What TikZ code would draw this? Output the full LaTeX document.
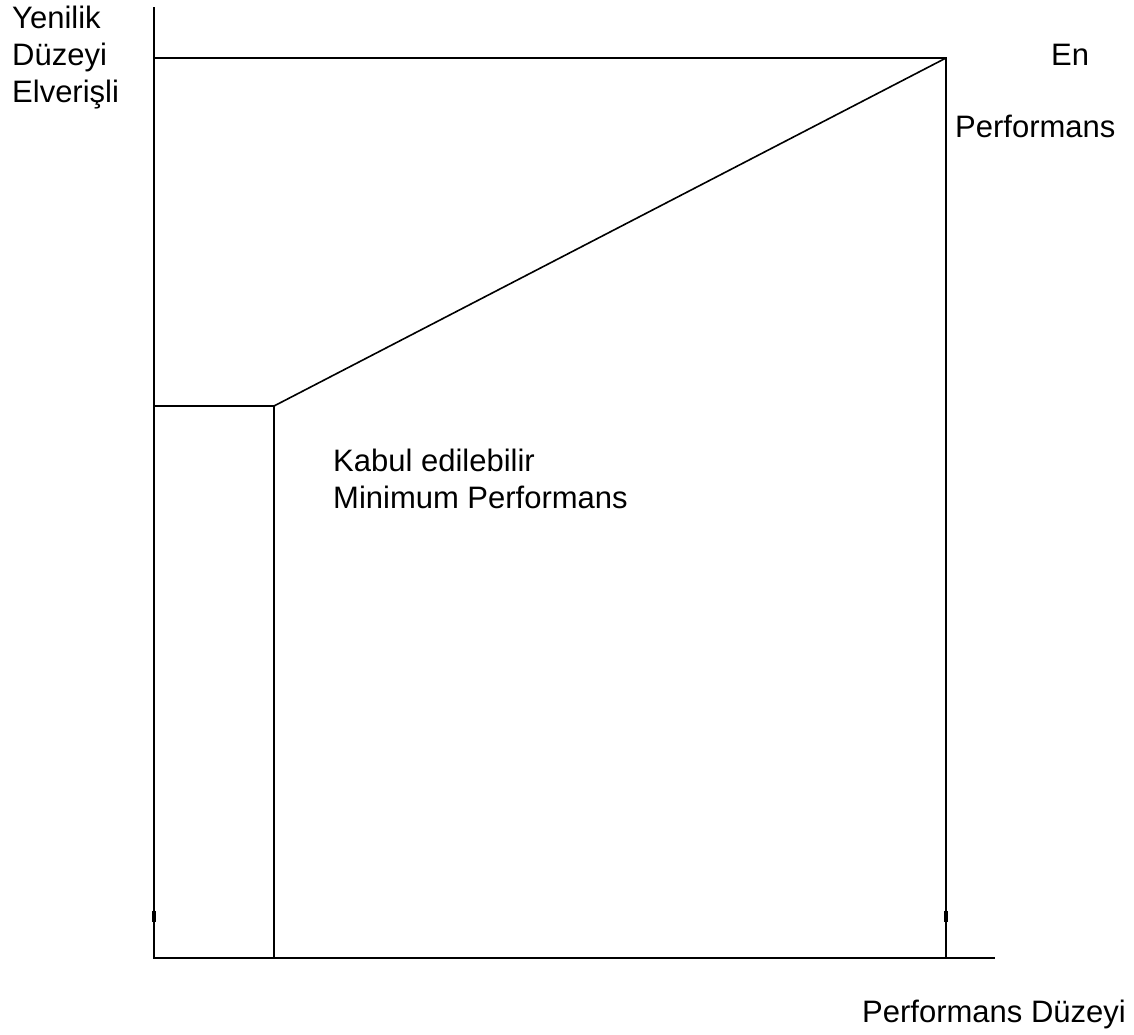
\documentclass[tikz,border=0pt]{standalone}
\usepackage{fontspec}
\setmainfont{Liberation Sans}
\begin{document}
\begin{tikzpicture}[x=1pt,y=-1pt,
  axisline/.style={line width=1.6pt,black},
  tickmark/.style={line width=3.2pt,black},
  lbl/.style={anchor=base west,inner sep=0pt,font=\fontsize{31}{37}\selectfont}]
\useasboundingbox (0,0) rectangle (1134,1034);
% key points of the chart
\coordinate (ytop) at (154,7);
\coordinate (origin) at (154,958);
\coordinate (xend) at (995,958);
\coordinate (topleft) at (154,58);
\coordinate (topright) at (946,58);
\coordinate (botright) at (946,958);
\coordinate (minleft) at (154,406);
\coordinate (minpt) at (274,406);
\coordinate (minbot) at (274,958);
% axes
\draw[axisline] (ytop) -- (origin) -- (xend);
% frame and curve
\draw[axisline] (topleft) -- (topright) -- (botright);
\draw[axisline] (minleft) -- (minpt) -- (minbot);
\draw[axisline] (minpt) -- (topright);
% small ticks on the verticals
\draw[tickmark] (154,911) -- (154,922);
\draw[tickmark] (946,911) -- (946,922);
% labels
\node[lbl] (l1) at (12,28) {Yenilik};
\node[lbl] (l2) at (12,65) {Düzeyi};
\node[lbl] (l3) at (12,102) {Elverişli};
\node[lbl] (en) at (1051,65) {En};
\node[lbl] (perf) at (955,137) {Performans};
\node[lbl] (kab) at (333,471) {Kabul edilebilir};
\node[lbl] (minp) at (333,508) {Minimum Performans};
\node[lbl] (xl) at (862,1022) {Performans Düzeyi};
\end{tikzpicture}
\end{document}
